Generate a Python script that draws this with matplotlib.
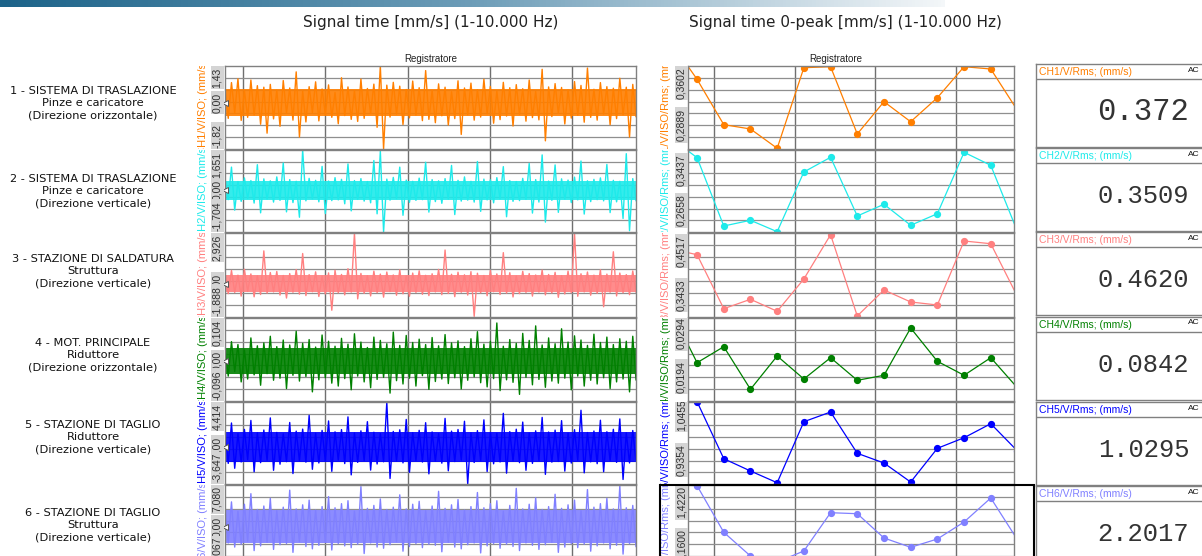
import numpy as np
import matplotlib
matplotlib.use('Agg')
import matplotlib.pyplot as plt
from matplotlib import transforms
from matplotlib.colors import LinearSegmentedColormap
from matplotlib.patches import Rectangle

# ---- data ----
row_titles = [
    "1 - SISTEMA DI TRASLAZIONE\nPinze e caricatore\n(Direzione orizzontale)",
    "2 - SISTEMA DI TRASLAZIONE\nPinze e caricatore\n(Direzione verticale)",
    "3 - STAZIONE DI SALDATURA\nStruttura\n(Direzione verticale)",
    "4 - MOT. PRINCIPALE\nRiduttore\n(Direzione orizzontale)",
    "5 - STAZIONE DI TAGLIO\nRiduttore\n(Direzione verticale)",
    "6 - STAZIONE DI TAGLIO\nStruttura\n(Direzione verticale)",
]
channels = ['CH1', 'CH2', 'CH3', 'CH4', 'CH5', 'CH6']
colors = ['#ff7f00', '#1eeaea', '#ff8080', '#008000', '#0000ff', '#8080ff']

# time signal (mm/s), one list per channel
sig_ch1 = [0.55, -0.62, 0.78, -0.41, 0.93, -0.70, 0.46, -0.58, 0.88, -0.49, 0.66, -0.85, 0.60, -1.20, 0.71, -0.64,
           0.48, -0.93, 0.86, -0.41, 0.57, -0.69, 1.20, -1.35, 0.44, -0.76, 0.62, -0.39, 0.81, -0.72, 0.53, -0.47,
           0.69, -0.58, 0.39, -0.83, 0.97, -0.51, 0.61, -0.66, 0.46, -0.74, 0.92, -0.62, 0.55, -0.43, 0.72, -0.97,
           1.43, -1.82, 0.68, -0.57, 0.79, -0.45, 0.64, -0.86, 0.51, -0.60, 0.84, -0.49, 0.58, -0.71, 1.25, -0.66,
           0.47, -0.79, 0.73, -0.52, 0.60, -0.88, 0.42, -0.63, 0.85, -1.25, 0.57, -0.48, 0.76, -0.69, 0.50, -0.57,
           0.91, -0.44, 0.63, -0.81, 0.45, -0.67, 0.79, -0.53, 0.58, -0.92, 0.70, -0.46, 0.54, -0.73, 0.88, -0.59,
           0.43, -0.68, 1.30, -1.50, 0.61, -0.55, 0.74, -0.42, 0.59, -0.84, 0.49, -0.61, 0.82, -0.50, 0.67, -0.77,
           1.35, -0.58, 0.52, -0.69, 0.78, -0.45, 0.62, -0.87, 0.56, -0.63, 0.95, -0.48, 0.60, -1.35, 0.71, -0.55]
sig_ch2 = [0.42, -0.38, 0.95, -0.81, 0.36, -0.45, 0.51, -0.33, 0.40, -0.52, 1.05, -0.92, 0.47, -0.36, 0.39, -0.48,
           0.55, -0.41, 1.12, -0.88, 0.44, -0.50, 0.37, -1.10, 1.65, -0.43, 0.49, -0.35, 0.41, -0.47, 0.98, -0.95,
           0.38, -0.42, 0.52, -0.39, 0.45, -0.55, 1.08, -0.84, 0.40, -0.37, 0.48, -0.44, 0.36, -0.51, 1.22, -0.96,
           1.60, -1.70, 0.46, -0.40, 0.53, -0.34, 0.95, -1.02, 0.42, -0.49, 0.37, -0.41, 0.50, -0.38, 1.15, -0.89,
           0.44, -0.46, 0.39, -0.53, 0.48, -0.36, 1.02, -0.99, 0.41, -0.44, 0.55, -0.40, 0.37, -0.48, 1.18, -0.86,
           0.46, -0.39, 0.43, -0.51, 0.52, -0.35, 0.97, -1.08, 0.40, -0.45, 0.36, -0.42, 0.49, -0.37, 1.10, -0.93,
           0.44, -0.48, 1.45, -1.30, 0.38, -0.41, 1.04, -0.90, 0.47, -0.36, 0.42, -0.50, 0.54, -0.39, 1.20, -0.97,
           0.39, -0.46, 0.45, -0.38, 0.51, -0.43, 1.06, -0.91, 0.41, -0.47, 0.37, -1.15, 1.50, -1.65, 0.48, -0.42]
sig_ch3 = [0.62, -0.55, 0.78, -0.48, 0.51, -0.69, 0.85, -0.42, 0.58, -0.73, 0.47, -0.60, 1.90, -0.52, 0.66, -0.45,
           0.72, -0.63, 0.49, -0.80, 0.60, -0.47, 0.83, -0.58, 1.75, -0.66, 0.54, -0.44, 0.70, -0.71, 0.46, -0.57,
           0.64, -1.50, 0.79, -0.50, 0.55, -0.62, 0.88, -0.46, 2.92, -0.85, 0.61, -0.53, 0.48, -0.68, 0.74, -0.49,
           0.57, -0.75, 0.69, -0.43, 0.52, -0.64, 0.81, -0.56, 0.47, -0.70, 0.63, -0.48, 0.76, -0.59, 0.50, -0.66,
           0.59, -0.45, 0.84, -0.61, 1.95, -0.54, 0.56, -0.72, 0.68, -0.47, 0.53, -0.63, 0.71, -1.85, 0.62, -0.50,
           0.49, -0.67, 0.77, -0.44, 0.58, -0.60, 1.80, -0.52, 0.65, -0.74, 0.46, -0.55, 0.73, -0.48, 0.60, -0.69,
           0.52, -0.46, 0.80, -0.62, 0.55, -0.51, 0.67, -0.76, 0.48, -0.57, 0.74, -0.49, 2.90, -0.70, 0.59, -0.45,
           0.69, -0.64, 0.51, -0.53, 0.82, -1.30, 0.57, -0.47, 1.85, -0.68, 0.63, -0.50, 0.54, -0.61, 0.75, -0.46]
sig_ch4 = [0.031, -0.036, 0.047, -0.025, 0.040, -0.050, 0.027, -0.043, 0.056, -0.033, 0.037, -0.058, 0.044, -0.030, 0.060, -0.046,
           0.035, -0.041, 0.051, -0.066, 0.039, -0.034, 0.072, -0.048, 0.043, -0.037, 0.052, -0.074, 0.034, -0.045, 0.063, -0.040,
           0.048, -0.053, 0.036, -0.060, 0.055, -0.042, 0.041, -0.069, 0.066, -0.036, 0.046, -0.050, 0.033, -0.064, 0.058, -0.044,
           0.050, -0.039, 0.042, -0.077, 0.070, -0.047, 0.038, -0.055, 0.062, -0.041, 0.045, -0.060, 0.053, -0.035, 0.040, -0.068,
           0.057, -0.049, 0.037, -0.043, 0.064, -0.054, 0.044, -0.040, 0.049, -0.067, 0.035, -0.046, 0.054, -0.038, 0.071, -0.052,
           0.041, -0.062, 0.048, -0.042, 0.092, -0.071, 0.036, -0.045, 0.052, -0.051, 0.043, -0.080, 0.067, -0.039, 0.050, -0.057,
           0.085, -0.044, 0.039, -0.063, 0.056, -0.048, 0.042, -0.053, 0.078, -0.041, 0.046, -0.069, 0.061, -0.036, 0.051, -0.060,
           0.038, -0.046, 0.065, -0.055, 0.045, -0.040, 0.058, -0.066, 0.040, -0.050, 0.054, -0.043, 0.048, -0.074, 0.060, -0.045]
sig_ch5 = [1.45, -1.62, 2.35, -2.10, 1.30, -1.48, 1.72, -1.25, 2.60, -2.45, 1.38, -1.55, 1.66, -1.32, 2.85, -2.30,
           1.42, -1.70, 1.28, -1.45, 2.40, -2.62, 1.55, -1.36, 1.75, -1.50, 3.10, -2.20, 1.34, -1.58, 1.62, -1.40,
           2.55, -2.40, 1.48, -1.29, 1.70, -1.64, 2.95, -2.75, 1.36, -1.52, 1.58, -1.35, 2.48, -2.28, 1.44, -1.68,
           1.31, -1.46, 4.41, -3.10, 1.52, -1.38, 1.68, -1.57, 2.70, -2.50, 1.40, -1.33, 1.63, -1.49, 2.38, -2.65,
           1.47, -1.41, 1.29, -1.60, 2.80, -2.35, 1.55, -1.44, 1.71, -1.30, 2.52, -3.64, 1.39, -1.53, 1.60, -1.37,
           2.66, -2.42, 1.43, -1.66, 1.33, -1.48, 3.30, -2.58, 1.50, -1.39, 1.74, -1.55, 2.44, -2.30, 1.37, -1.62,
           1.58, -1.34, 2.90, -2.70, 1.46, -1.50, 1.65, -1.43, 2.58, -2.38, 1.35, -1.59, 1.69, -1.31, 3.60, -2.55,
           1.41, -1.47, 1.56, -1.65, 2.62, -2.44, 1.49, -1.36, 1.73, -1.52, 2.75, -3.20, 1.38, -1.58, 1.61, -1.40]
sig_ch6 = [3.1, -2.8, 4.2, -3.5, 2.6, -3.0, 3.8, -2.5, 5.6, -4.1, 2.9, -3.3, 3.5, -2.7, 4.8, -3.9,
           2.7, -3.1, 3.3, -2.9, 6.2, -4.4, 3.0, -2.6, 3.7, -3.4, 4.5, -3.8, 2.8, -3.2, 3.4, -2.7,
           5.1, -4.0, 3.2, -2.9, 3.9, -3.3, 4.4, -3.6, 2.6, -3.0, 6.8, -4.6, 3.1, -2.8, 3.6, -3.5,
           4.7, -3.7, 2.9, -3.1, 3.3, -2.6, 5.4, -4.2, 3.0, -3.4, 3.8, -2.9, 4.3, -3.6, 2.7, -3.0,
           3.5, -3.2, 6.0, -4.3, 3.1, -2.7, 3.7, -3.5, 4.6, -3.8, 2.8, -3.1, 3.4, -2.8, 5.8, -4.5,
           3.2, -3.3, 3.9, -2.9, 4.4, -3.7, 2.6, -3.0, 3.6, -3.4, 6.5, -4.1, 3.0, -2.8, 3.8, -3.2,
           4.9, -3.9, 2.9, -3.1, 3.4, -2.7, 5.5, -4.4, 3.1, -3.5, 3.7, -2.9, 4.5, -3.6, 2.7, -3.0,
           6.3, -4.2, 3.3, -3.3, 3.9, -2.8, 4.8, -3.8, 3.0, -3.2, 6.9, -4.7, 3.2, -2.9, 3.6, -3.4]
signals = [sig_ch1, sig_ch2, sig_ch3, sig_ch4, sig_ch5, sig_ch6]
# dense core of each trace (mm/s): where the samples overlap into a solid band
sig_core = [(-0.52, 0.52), (-0.38, 0.38), (-0.48, 0.52), (-0.03, 0.032), (-1.45, 1.45), (-2.8, 2.8)]
sig_lims = [(-1.82, 1.43), (-1.704, 1.651), (-1.888, 2.926),
            (-0.096, 0.104), (-3.647, 4.414), (-7.067, 7.080)]
sig_top_lab = ['1,43', '1,651', '2,926', '0,104', '4,414', '7,080']
sig_bot_lab = ['-1,82', '-1,704', '-1,888', '-0,096', '-3,647', '-7,067']

# 0-peak trend (mm/s), first and last point lie just outside the view
peak_ch1 = [0.431, 0.3665, 0.2895, 0.2822, 0.2494, 0.3862, 0.3879, 0.2737, 0.3285, 0.2945, 0.3353, 0.3879, 0.3840, 0.3137]
peak_ch2 = [0.4068, 0.3677, 0.2347, 0.2458, 0.2236, 0.3399, 0.3685, 0.2542, 0.2770, 0.2361, 0.2586, 0.3782, 0.3529, 0.2238]
peak_ch3 = [0.4573, 0.4425, 0.3095, 0.3326, 0.3031, 0.3827, 0.4918, 0.2915, 0.3556, 0.3260, 0.3186, 0.4763, 0.4696, 0.3393]
peak_ch4 = [0.03489, 0.02268, 0.02636, 0.01656, 0.02422, 0.01893, 0.02383, 0.01863, 0.01978, 0.03066, 0.02300, 0.01978, 0.02383, 0.01688]
peak_ch5 = [1.078, 1.0780, 0.9386, 0.9085, 0.8798, 1.0291, 1.0528, 0.9518, 0.9280, 0.8815, 0.9640, 0.9899, 1.0242, 0.9574]
peak_ch6 = [1.53, 1.5213, 1.2374, 1.0930, 1.0564, 1.1235, 1.3568, 1.3507, 1.2027, 1.1460, 1.1966, 1.3002, 1.4464, 1.1917]
peaks = [peak_ch1, peak_ch2, peak_ch3, peak_ch4, peak_ch5, peak_ch6]
peak_idx = list(range(-1, 13))
peak_lims = [(0.2482, 0.3891), (0.2230, 0.3827), (0.2890, 0.4960),
             (0.01387, 0.03296), (0.8767, 1.0773), (1.0199, 1.5256)]
peak_ticks = [(0.3602, 0.2889), (0.3437, 0.2658), (0.4517, 0.3433),
              (0.0294, 0.0194), (1.0455, 0.9354), (1.4220, 1.1600)]

rms_values = ['0.372', '0.3509', '0.4620', '0.0842', '1.0295', '2.2017']

# ---- layout (pixels) ----
W, H = 1202, 556
row_tops = [66, 150, 233, 318, 402, 485]
row_bots = [149, 232, 317, 401, 484, 568]
box_tops = [64, 148, 232, 317, 402, 486]
title_y = [103, 191, 271, 355, 437, 525]
SANS = 'Liberation Sans'


def px_axes(fig, x0, y0, x1, y1):
    return fig.add_axes([x0 / W, 1 - y1 / H, (x1 - x0) / W, (y1 - y0) / H])


def grid_style(ax, xt, lo, hi):
    ax.set_xticks(xt)
    ax.set_yticks(np.linspace(lo, hi, 8)[1:-1])
    ax.tick_params(length=0, labelleft=False, labelbottom=False)
    ax.grid(True, axis='y', color='#8f8f8f', lw=0.9)
    ax.grid(True, axis='x', color='#6f6f6f', lw=1.0)
    ax.set_axisbelow(True)
    for s in ax.spines.values():
        s.set_color('#808080')
        s.set_linewidth(1)


def tick_text(ax, x, y, s, transform, va):
    ax.text(x, y, s, transform=transform, rotation=90, ha='center', va=va,
            fontsize=7.5, family=SANS, color='#303030', clip_on=True,
            bbox=dict(boxstyle='square,pad=0.15', fc='#d4d4d4', ec='none'))


fig = plt.figure(figsize=(W / 100, H / 100), dpi=100)

# top banner
ban = px_axes(fig, 0, 0, 945, 7)
cmap = LinearSegmentedColormap.from_list('ban', ['#1c6389', '#6d9db8', '#f4f7f9'])
ban.imshow(np.linspace(0, 1, 256)[None, :], aspect='auto', cmap=cmap)
ban.axis('off')

fig.text(431 / W, 1 - 22 / H, 'Signal time [mm/s] (1-10.000 Hz)', ha='center', va='center',
         fontsize=11, color='#222222')
fig.text(845 / W, 1 - 22 / H, 'Signal time 0-peak [mm/s] (1-10.000 Hz)', ha='center', va='center',
         fontsize=11, color='#222222')
fig.text(431 / W, 1 - 59 / H, 'Registratore', ha='center', va='center', fontsize=7, family=SANS, color='#222222')
fig.text(836 / W, 1 - 59 / H, 'Registratore', ha='center', va='center', fontsize=7, family=SANS, color='#222222')

for i in range(6):
    top, bot, c = row_tops[i], row_bots[i], colors[i]

    fig.text(93 / W, 1 - title_y[i] / H, row_titles[i], ha='center', va='center',
             fontsize=8.2, linespacing=1.25, color='#111111')

    # time signal: solid core band plus the sample trace
    sig = signals[i]
    lo, hi = sig_lims[i]
    ax = px_axes(fig, 225, top, 636, bot)
    xs = np.arange(len(sig))
    ax.fill_between(xs, sig_core[i][0], sig_core[i][1], color=c, lw=0, alpha=0.9)
    ax.plot(xs, sig, color=c, lw=1.0)
    ax.set_xlim(0, len(sig) - 1)
    ax.set_ylim(lo, hi)
    grid_style(ax, np.arange(5.6, len(sig), 25.4), lo, hi)
    ax.plot([0], [0], marker='<', ms=4.5, mfc='white', mec='#555555', mew=0.7, clip_on=False, zorder=5)

    st = px_axes(fig, 192, top, 225, bot)
    st.axis('off')
    tr = transforms.blended_transform_factory(st.transAxes, ax.transData)
    tick_text(st, 0.76, 0, '0,00', tr, 'center')
    tick_text(st, 0.76, 1 - 1.5 / (bot - top), sig_top_lab[i], st.transAxes, 'top')
    tick_text(st, 0.76, 1.5 / (bot - top), sig_bot_lab[i], st.transAxes, 'bottom')
    st.text(0.32, 0.5, channels[i] + '/V/ISO; (mm/s)', rotation=90, ha='center', va='center',
            fontsize=8, family=SANS, color=c, clip_on=True)

    # 0-peak trend
    lo, hi = peak_lims[i]
    px = px_axes(fig, 688, top, 1014, bot)
    px.plot(peak_idx, peaks[i], color=c, lw=0.9, marker='o', ms=4.2, mec=c, mfc=c)
    px.set_xlim(-0.34, 11.87)
    px.set_ylim(lo, hi)
    grid_style(px, np.arange(0.62, 11.8, 3.03), lo, hi)

    sp = px_axes(fig, 656, top, 688, bot)
    sp.axis('off')
    tr = transforms.blended_transform_factory(sp.transAxes, px.transData)
    for v in peak_ticks[i]:
        tick_text(sp, 0.80, v, ('%.4f' % v).replace('.', ','), tr, 'center')
    sp.text(0.32, 0.5, channels[i] + '/V/ISO/Rms; (mm/s)', rotation=90, ha='center', va='center',
            fontsize=8, family=SANS, color=c, clip_on=True)

    # rms value box
    bt = box_tops[i]
    bx = px_axes(fig, 1036, bt, 1215, bt + 83)
    bx.set_xlim(0, 1)
    bx.set_ylim(0, 1)
    bx.set_xticks([])
    bx.set_yticks([])
    for s in bx.spines.values():
        s.set_color('#808080')
        s.set_linewidth(1)
    bx.axhline(1 - 15 / 83, color='#808080', lw=1)
    bx.text(0.015, 1 - 8 / 83, channels[i] + '/V/Rms; (mm/s)', ha='left', va='center',
            fontsize=7.5, family=SANS, color=c)
    bx.text((1188 - 1036) / 179, 1 - 6 / 83, 'AC', ha='left', va='center', fontsize=6, family=SANS, color='#111111')
    val = rms_values[i]
    bx.text(0.6, 1 - 48 / 83, val, ha='center', va='center', family='Liberation Mono',
            fontsize=0.72 * 92 / (0.6 * len(val)), color='#333333')

# selected panel frame
fig.add_artist(Rectangle((660 / W, 1 - 580 / H), (1034 - 660) / W, (580 - 485) / H,
                         transform=fig.transFigure, fill=False, ec='black', lw=1.5))

fig.savefig('out.png', dpi=100)
